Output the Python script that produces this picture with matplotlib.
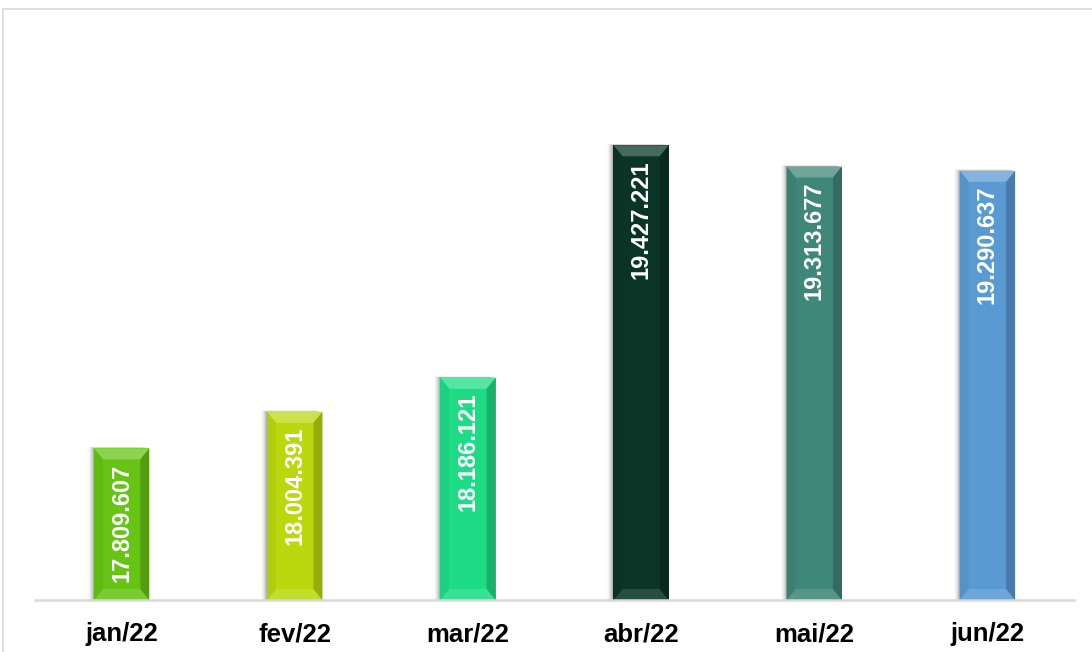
import numpy as np
import matplotlib.pyplot as plt
from matplotlib.patches import Polygon, Rectangle
import matplotlib.colors as mcolors

# data
meses = ['jan/22', 'fev/22', 'mar/22', 'abr/22', 'mai/22', 'jun/22']
valores = [17809607, 18004391, 18186121, 19427221, 19313677, 19290637]
cores = ['#66C414', '#BAD80E', '#1EDC86', '#0A3526', '#3F8778', '#5A9AD3']

plt.rcParams['font.family'] = ['Liberation Sans', 'DejaVu Sans']

W, H = 1092, 652
fig = plt.figure(figsize=(W / 100, H / 100), dpi=100)
ax = fig.add_axes([35 / W, 1 - 600 / H, (1074 - 35) / W, (600 - 38) / H])

# outer chart border
fig.patches.append(Rectangle((3 / W, -0.1), 1.2, 1 - 9 / H + 0.1, transform=fig.transFigure,
                             fill=False, edgecolor='#D9D9D9', linewidth=1.2))

x = np.arange(len(meses))
largura = 0.32
ymin, ymax = 17000000, 20000000
ax.set_xlim(-0.5, len(meses) - 0.5)
ax.set_ylim(ymin, ymax)

# pixel -> data units
px_x = (len(meses)) / (1074 - 35)
px_y = (ymax - ymin) / (600 - 38)


def tom(c, f):
    r, g, b = mcolors.to_rgb(c)
    if f > 1:
        return (r + (1 - r) * (f - 1), g + (1 - g) * (f - 1), b + (1 - b) * (f - 1))
    return (r * f, g * f, b * f)


for xi, v, c in zip(x, valores, cores):
    x0, x1 = xi - largura / 2, xi + largura / 2
    y0, y1 = ymin, v
    # soft shadow on the left
    for k, a in zip(range(1, 7), [0.10, 0.08, 0.06, 0.045, 0.03, 0.02]):
        ax.add_patch(Rectangle((x0 - k * px_x, y0), largura, v - ymin + k * 0.3 * px_y,
                               facecolor='black', alpha=a, linewidth=0, zorder=1))
    ax.bar(xi, v - ymin, bottom=ymin, width=largura, color=c, zorder=2, linewidth=0)
    # bevel
    bx, by = 9 * px_x, 11 * px_y
    ix0, ix1, iy0, iy1 = x0 + bx, x1 - bx, y0 + by, y1 - by
    ax.add_patch(Polygon([(x0, y1), (x1, y1), (ix1, iy1), (ix0, iy1)],
                         facecolor=tom(c, 1.25), linewidth=0, zorder=3))
    ax.add_patch(Polygon([(x0, y0), (x1, y0), (ix1, iy0), (ix0, iy0)],
                         facecolor=tom(c, 1.12), linewidth=0, zorder=3))
    ax.add_patch(Polygon([(x0, y0), (x0, y1), (ix0, iy1), (ix0, iy0)],
                         facecolor=tom(c, 0.95), linewidth=0, zorder=3))
    ax.add_patch(Polygon([(x1, y0), (x1, y1), (ix1, iy1), (ix1, iy0)],
                         facecolor=tom(c, 0.8), linewidth=0, zorder=3))
    rotulo = f'{v:,}'.replace(',', '.')
    ax.text(xi, v - 15 * px_y, rotulo, rotation=90, ha='center', va='top',
            color='white', fontsize=17, fontweight='bold', zorder=4)

ax.set_xticks(x)
ax.set_xticklabels(meses, fontsize=18.5, fontweight='bold')
ax.tick_params(axis='x', length=0, pad=16)
ax.set_yticks([])
for s in ['top', 'right', 'left']:
    ax.spines[s].set_visible(False)
ax.spines['bottom'].set_color('#D9D9D9')
ax.spines['bottom'].set_linewidth(1.8)
ax.spines['bottom'].set_zorder(5)
ax.set_xlim(-0.5, len(meses) - 0.5)

fig.savefig('out.png', dpi=100)
